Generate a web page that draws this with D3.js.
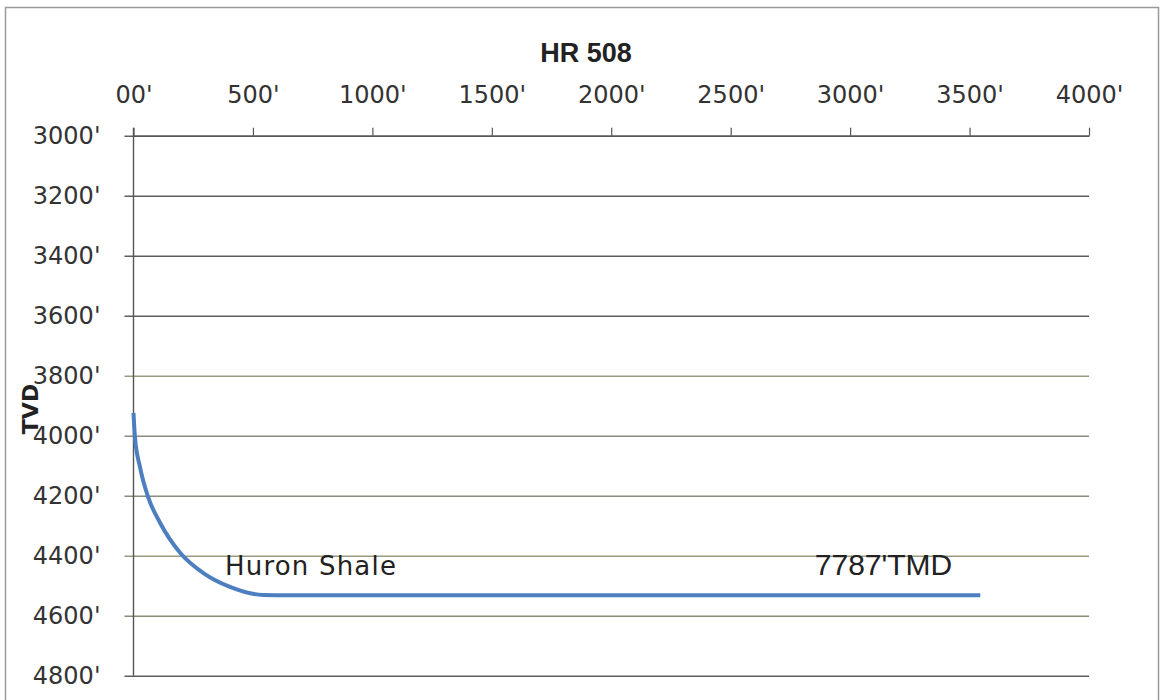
<!DOCTYPE html>
<html>
<head>
<meta charset="utf-8">
<script src="https://cdn.jsdelivr.net/npm/d3@7"></script>
<style>
  html, body { margin: 0; padding: 0; background: #fff; }
  svg { display: block; }
</style>
</head>
<body>
<svg id="chart" width="1162" height="700"></svg>
<script>
// ---- data ----
const chartTitle = "HR 508";
const yAxisTitle = "TVD";
const xTicks = [0, 500, 1000, 1500, 2000, 2500, 3000, 3500, 4000];
const xTickLabels = ["00'", "500'", "1000'", "1500'", "2000'", "2500'", "3000'", "3500'", "4000'"];
const yTicks = [3000, 3200, 3400, 3600, 3800, 4000, 4200, 4400, 4600, 4800];
const yTickLabels = ["3000'", "3200'", "3400'", "3600'", "3800'", "4000'", "4200'", "4400'", "4600'", "4800'"];
// well path: horizontal displacement (ft) vs true vertical depth (ft)
const wellDisp = [0, 6, 27, 61, 111, 195, 291, 404, 542, 650, 1000, 1500, 2000, 2500, 3000, 3545];
const wellTVD  = [3924, 4004, 4104, 4204, 4290, 4390, 4457, 4504, 4531, 4532, 4532, 4532, 4532, 4532, 4532, 4532];
const annoText = ["Huron Shale", "7787'TMD"];
const annoX = [383, 2852];
const annoTVD = [4465, 4465];

(function () {
// ---- layout ----
const svg = d3.select("#chart");
const pL = 133.5, pR = 1089, pT = 135.7, pB = 675.7;
const x = d3.scaleLinear().domain([0, 4000]).range([pL, pR]);
const y = d3.scaleLinear().domain([3000, 4800]).range([pT, pB]);

// outer frame
svg.append("rect").attr("x", 5.5).attr("y", 7.5).attr("width", 1153).attr("height", 700)
  .attr("fill", "#fff").attr("stroke", "#9a9a9a").attr("stroke-width", 1.5);

// horizontal gridlines (with left tick extension)
const gridColors = ["#5e5e5e", "#5e5e5e", "#5e5e5e", "#5e5e5e", "#9a9a80", "#8a8a80", "#8a8a80", "#9a9a80", "#8a8a78", "#5e5e5e"];
const yAxis = d3.axisLeft(y).tickValues(yTicks).tickFormat((d, i) => yTickLabels[i])
  .tickSize(-(pR - pL)).tickSizeOuter(0).tickPadding(33);
const gy = svg.append("g").attr("transform", `translate(${pL},0)`).call(yAxis);
gy.select(".domain").remove();
gy.selectAll(".tick line").attr("x1", -9).attr("stroke", (d, i) => gridColors[i]).attr("stroke-width", 1.4);
gy.selectAll(".tick text").attr("font-family", "DejaVu Sans").attr("font-size", 24).attr("fill", "#333");

// vertical axis line
svg.append("line").attr("x1", pL).attr("x2", pL).attr("y1", pT - 8).attr("y2", pB)
  .attr("stroke", "#555").attr("stroke-width", 1.4);

// top x axis
const xAxis = d3.axisTop(x).tickValues(xTicks).tickFormat((d, i) => xTickLabels[i])
  .tickSize(8).tickSizeOuter(0).tickPadding(25);
const gx = svg.append("g").attr("transform", `translate(0,${pT})`).call(xAxis);
gx.select(".domain").attr("stroke", "#555").attr("stroke-width", 1.4);
gx.selectAll(".tick line").attr("stroke", "#555").attr("stroke-width", 1.2);
gx.selectAll(".tick text").attr("font-family", "DejaVu Sans").attr("font-size", 24).attr("fill", "#333");

// well path
svg.append("path").datum(wellDisp).attr("d", d3.line()
    .x((d, i) => x(wellDisp[i])).y((d, i) => y(wellTVD[i])).curve(d3.curveMonotoneX))
  .attr("fill", "none").attr("stroke", "#4d7fc0").attr("stroke-width", 4).attr("stroke-linecap", "butt");

// annotations
svg.append("text").attr("x", x(annoX[0])).attr("y", y(annoTVD[0]))
  .attr("font-family", "DejaVu Sans").attr("font-size", 26).attr("letter-spacing", 1.2)
  .attr("fill", "#222").text(annoText[0]);
svg.append("text").attr("x", x(annoX[1])).attr("y", y(annoTVD[1]))
  .attr("font-family", "Liberation Sans").attr("font-size", 30)
  .attr("fill", "#222").text(annoText[1]);

// titles
svg.append("text").attr("x", 586).attr("y", 62).attr("text-anchor", "middle")
  .attr("font-family", "Liberation Sans").attr("font-weight", "bold").attr("font-size", 27)
  .attr("fill", "#222").text(chartTitle);
svg.append("text").attr("transform", "translate(38,409) rotate(-90)").attr("text-anchor", "middle")
  .attr("font-family", "DejaVu Sans").attr("font-weight", "bold").attr("font-size", 22)
  .attr("fill", "#222").text(yAxisTitle);
})();
</script>
</body>
</html>
